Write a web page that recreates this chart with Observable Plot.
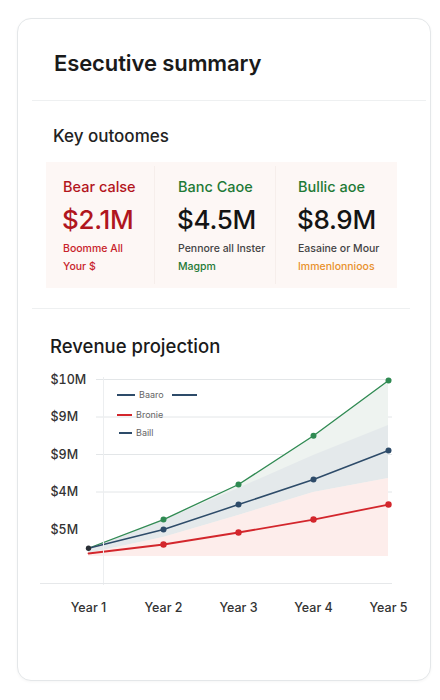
<!DOCTYPE html>
<html>
<head>
<meta charset="utf-8">
<script src="https://cdn.jsdelivr.net/npm/d3@7"></script>
<script src="https://cdn.jsdelivr.net/npm/@observablehq/plot@0.6"></script>
<style>
  html, body { margin: 0; padding: 0; background: #ffffff; }
  body { width: 440px; height: 700px; position: relative; font-family: Inter, "Noto Sans", sans-serif; color: #1a1a1a; overflow: hidden; }
  .card { position: absolute; left: 17px; top: 18px; width: 414px; height: 663px; border: 1px solid #e4e7e9; border-radius: 14px; background: #fff; box-sizing: border-box; box-shadow: 0 1px 3px rgba(0,0,0,0.04); }
  .abs { position: absolute; white-space: nowrap; }
  .title { left: 54px; top: 50px; font-size: 22px; font-weight: 600; letter-spacing: -0.1px; }
  .divider { position: absolute; height: 1px; background: #eef0f1; }
  .h2 { left: 53px; top: 126px; font-size: 17px; font-weight: 500; color: #222; }
  .panel { position: absolute; left: 46px; top: 162px; width: 351px; height: 126px; background: #fdf7f5; }
  .sep { position: absolute; top: 166px; width: 1px; height: 118px; background: #f6eeeb; }
  .kpi-label { font-size: 14.5px; font-weight: 500; }
  .kpi-value { font-size: 26px; font-weight: 500; letter-spacing: -0.3px; }
  .kpi-sub { font-size: 10.5px; font-weight: 500; }
  .h3 { left: 50px; top: 335px; font-size: 18.5px; font-weight: 500; color: #1a1a1a; }
  #chart { position: absolute; left: 0; top: 360px; }
  .legend { position: absolute; font-size: 9px; color: #666; }
  .legend .row { position: absolute; display: flex; align-items: center; white-space: nowrap; }
  .legend .sw { display: inline-block; height: 2px; margin-right: 4px; }
</style>
</head>
<body>
<div class="card"></div>
<div class="abs title">Esecutive summary</div>
<div class="divider" style="left:32px; top:100px; width:394px;"></div>
<div class="abs h2">Key outoomes</div>
<div class="panel"></div>
<div class="sep" style="left:154px;"></div>
<div class="sep" style="left:275px;"></div>
<div id="kpis"></div>
<div class="divider" style="left:32px; top:308px; width:378px;"></div>
<div class="abs h3">Revenue projection</div>
<div id="chart"></div>
<div class="divider" style="left:103px; top:377px; width:1px; height:208px; background:#eceef0;"></div>
<div class="divider" style="left:40px; top:583px; width:352px; background:#e6e8ea;"></div>
<div class="legend" id="legend"></div>

<script>
// Scenario cards
const scenarios = ["Bear calse", "Banc Caoe", "Bullic aoe"];
const scenarioTotals = ["$2.1M", "$4.5M", "$8.9M"];
const scenarioNotes = ["Boomme All", "Pennore all Inster", "Easaine or Mour"];
const scenarioTags = ["Your $", "Magpm", "Immenlonnioos"];

// Revenue projection ($M)
const years = ["Year 1", "Year 2", "Year 3", "Year 4", "Year 5"];
const bull = [1.0, 2.53, 4.4, 7.0, 9.95];
const base = [1.0, 2.0, 3.33, 4.67, 6.21];
const bear = [0.72, 1.2, 1.84, 2.53, 3.33];
const baseRangeHigh = [1.0, 2.48, 4.19, 5.95, 7.55];
const bearRangeHigh = [0.72, 1.57, 2.75, 3.97, 4.72];
const areaFloor = 0.56;

const yTicks = [2, 4, 6, 8, 10];
const yTickLabels = ["$5M", "$4M", "$9M", "$9M", "$10M"];
const gridValues = [4, 6, 8, 10];

const legendNames = ["Baaro", "Bronie", "Baill"];

const palette = {
  bull: "#2f8a52", base: "#2d4b69", bear: "#d3262c",
  bullFill: "#eef3f0", baseFill: "#e4e9eb", bearFill: "#fdedeb",
  labelRed: "#b3151d", labelGreen: "#1f7a36", orange: "#e8912c"
};

// KPI cards
const cardStyle = [
  {label: palette.labelRed, value: "#b0161e", note: "#c8232b", tag: "#c8232b"},
  {label: palette.labelGreen, value: "#141414", note: "#444", tag: palette.labelGreen},
  {label: palette.labelGreen, value: "#141414", note: "#444", tag: palette.orange}
];
const colX = [63, 178, 298];
const kpis = document.getElementById("kpis");
scenarios.forEach((name, i) => {
  const s = cardStyle[i];
  kpis.insertAdjacentHTML("beforeend", `
    <div class="abs kpi-label" style="left:${colX[i]}px; top:178px; color:${s.label}">${name}</div>
    <div class="abs kpi-value" style="left:${colX[i] - 1}px; top:204px; color:${s.value}">${scenarioTotals[i]}</div>
    <div class="abs kpi-sub" style="left:${colX[i]}px; top:242px; color:${s.note}">${scenarioNotes[i]}</div>
    <div class="abs kpi-sub" style="left:${colX[i]}px; top:260px; color:${s.tag}">${scenarioTags[i]}</div>`);
});

// Chart
const rows = years.map((year, i) => ({
  year, bull: bull[i], base: base[i], bear: bear[i],
  baseHigh: baseRangeHigh[i], bearHigh: bearRangeHigh[i], i
}));

const chart = Plot.plot({
  width: 440,
  height: 265,
  marginLeft: 96,
  marginRight: 48,
  marginTop: 15,
  marginBottom: 30,
  style: {fontFamily: "Inter, 'Noto Sans', sans-serif", fontSize: "12.5px", color: "#333", background: "transparent"},
  x: {type: "point", domain: years, range: [87, 389], padding: 0},
  y: {domain: [2, 10], range: [169, 19]},
  marks: [
    Plot.gridY(gridValues, {stroke: "#e3e6e8", strokeOpacity: 1}),
    Plot.areaY(rows, {x: "year", y1: areaFloor, y2: "bull", fill: palette.bullFill}),
    Plot.areaY(rows, {x: "year", y1: "bearHigh", y2: "baseHigh", fill: palette.baseFill}),
    Plot.areaY(rows, {x: "year", y1: areaFloor, y2: "bearHigh", fill: palette.bearFill}),
    Plot.lineY(rows, {x: "year", y: "bull", stroke: palette.bull, strokeWidth: 1.3}),
    Plot.lineY(rows, {x: "year", y: "base", stroke: palette.base, strokeWidth: 1.5}),
    Plot.lineY(rows, {x: "year", y: "bear", stroke: palette.bear, strokeWidth: 1.8}),
    Plot.dot(rows.filter(d => d.i > 0), {x: "year", y: "bull", r: 3, fill: palette.bull}),
    Plot.dot(rows.filter(d => d.i > 0), {x: "year", y: "bear", r: 3.2, fill: palette.bear}),
    Plot.dot(rows, {x: "year", y: "base", r: d => d.i === 0 ? 2.4 : 3, fill: d => d.i === 0 ? "#2a2f36" : palette.base}),
    Plot.axisY(yTicks, {
      tickSize: 0, tickPadding: 46, textAnchor: "start", label: null,
      tickFormat: d => yTickLabels[yTicks.indexOf(d)], fill: "#333", fontSize: 12.5, fontWeight: 500
    }),
    Plot.axisX(years, {tickSize: 0, tickPadding: 8, label: null, fill: "#333", fontSize: 12.5, fontWeight: 500})
  ]
});
document.getElementById("chart").append(chart);

// Legend
const legendRows = [
  {name: legendNames[0], color: palette.base, top: 389, w: 18, extra: true},
  {name: legendNames[1], color: palette.bear, top: 409, w: 15},
  {name: legendNames[2], color: palette.base, top: 427, w: 13, left: 119}
];
const legend = document.getElementById("legend");
legendRows.forEach(r => {
  legend.insertAdjacentHTML("beforeend", `
    <div class="row" style="left:${r.left || 117}px; top:${r.top}px;">
      <span class="sw" style="width:${r.w}px; background:${r.color}"></span>${r.name}
      ${r.extra ? `<span class="sw" style="width:25px; margin-left:8px; background:${r.color}"></span>` : ""}
    </div>`);
});
</script>
</body>
</html>
